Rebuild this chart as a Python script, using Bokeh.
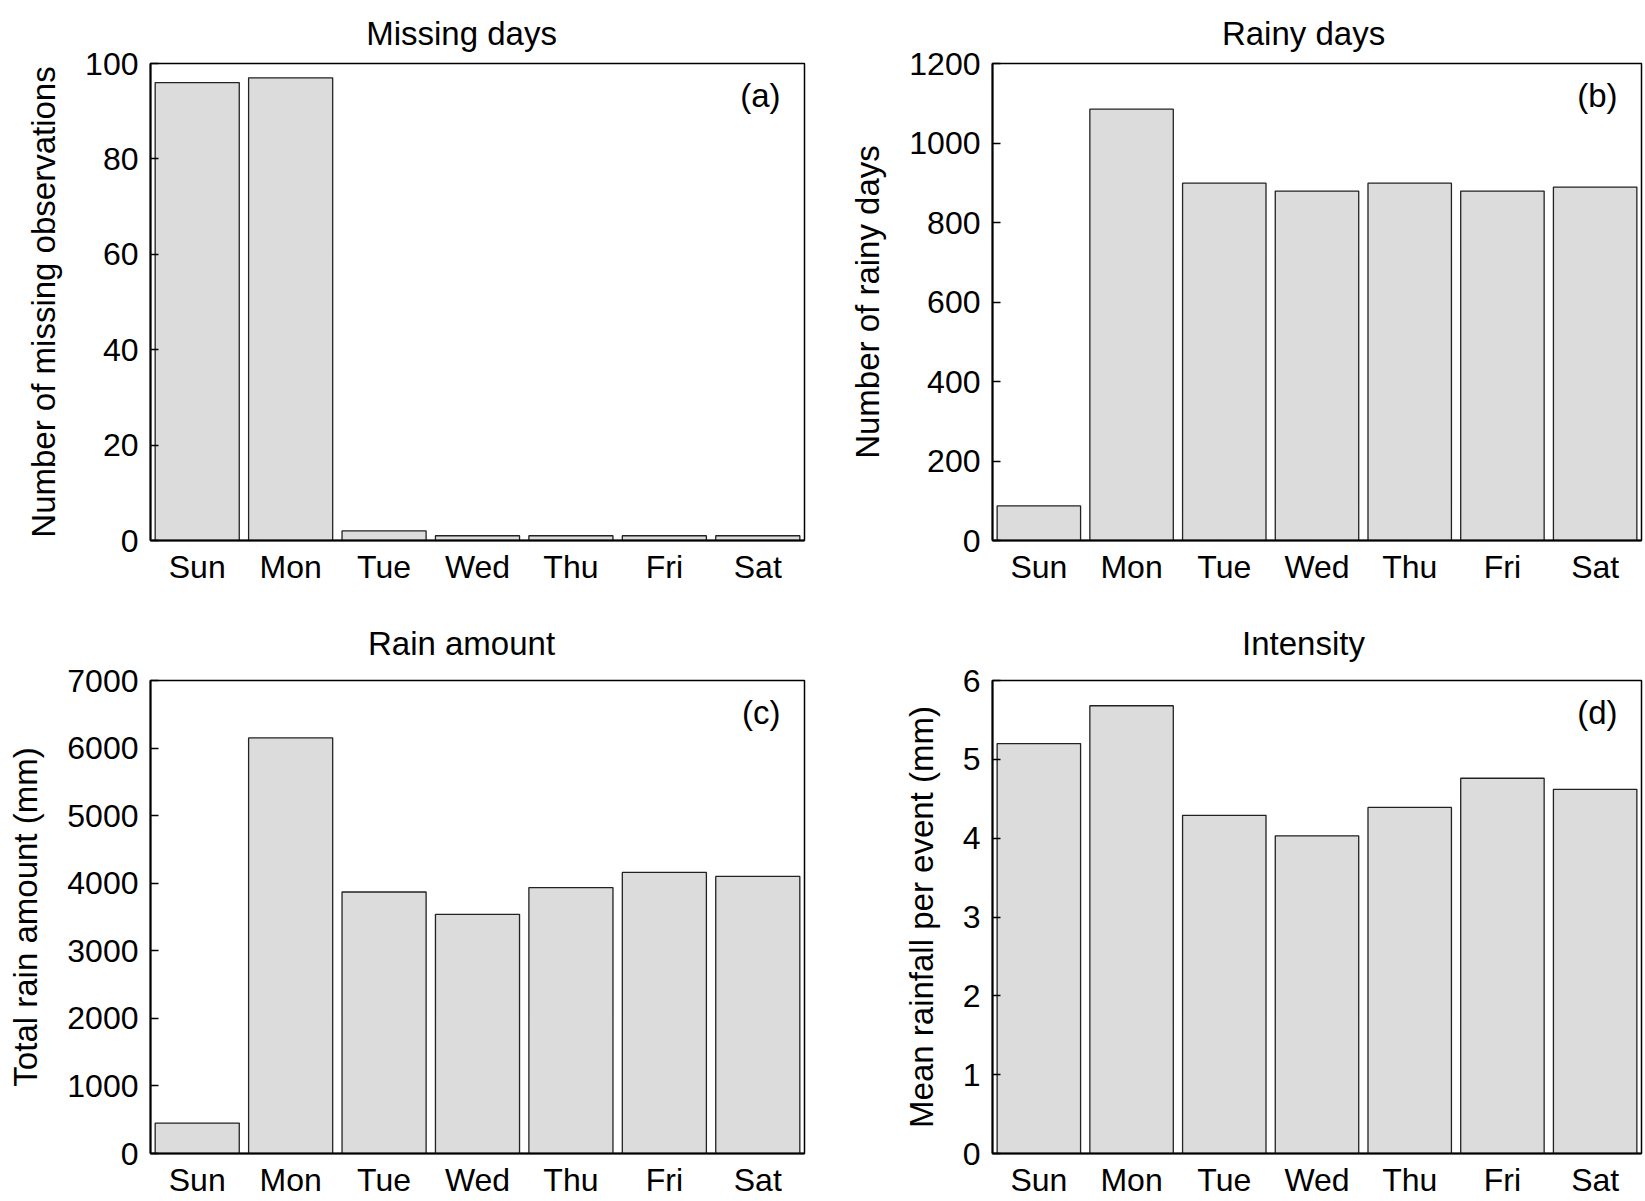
from bokeh.plotting import figure
from bokeh.layouts import row, column
from bokeh.models import FactorRange, Range1d, FixedTicker, Label, Title, ColumnDataSource
from bokeh.embed import file_html
from bokeh.resources import INLINE

days = ["Sun", "Mon", "Tue", "Wed", "Thu", "Fri", "Sat"]
missing_days = [96, 97, 2, 1, 1, 1, 1]
rainy_days = [87, 1085, 899, 879, 899, 879, 889]
rain_amount = [450, 6150, 3870, 3540, 3935, 4160, 4100]
intensity = [5.20, 5.68, 4.29, 4.03, 4.39, 4.76, 4.62]

titles = ["Missing days", "Rainy days", "Rain amount", "Intensity"]
ylabels = ["Number of missing observations", "Number of rainy days",
           "Total rain amount (mm)", "Mean rainfall per event (mm)"]
tags = ["(a)", "(b)", "(c)", "(d)"]
y_max = [100, 1200, 7000, 6]
y_ticks = [[0, 20, 40, 60, 80, 100],
           [0, 200, 400, 600, 800, 1000, 1200],
           [0, 1000, 2000, 3000, 4000, 5000, 6000, 7000],
           [0, 1, 2, 3, 4, 5, 6]]
series = [missing_days, rainy_days, rain_amount, intensity]

FONT = "Liberation Sans"
CW = {"M": 833, "i": 222, "s": 500, "n": 556, "g": 556, " ": 278, "d": 556, "a": 556,
      "y": 500, "R": 722, "m": 833, "o": 556, "u": 556, "t": 278, "I": 278, "e": 556}


def text_w(s, size):
    return sum(CW.get(c, 556) for c in s) / 1000.0 * size


def make(i, w, h, bl, br, bt, bb, tstand):
    src = ColumnDataSource(dict(day=days, val=series[i]))
    p = figure(x_range=FactorRange(*days, range_padding=0, factor_padding=0),
               y_range=Range1d(0, y_max[i]),
               width=w, height=h, output_backend="svg", toolbar_location=None,
               min_border_left=bl, min_border_right=br, min_border_top=bt,
               min_border_bottom=bb)
    p.vbar(x="day", top="val", width=0.9, source=src, fill_color="#dcdcdc",
           line_color="#222222", line_width=1.3)
    p.xgrid.visible = False
    p.ygrid.visible = False
    p.outline_line_color = "black"
    p.outline_line_width = 1.5
    p.outline_line_alpha = 1
    fs = "32px"
    for ax in (p.xaxis[0], p.yaxis[0]):
        ax.axis_line_color = "black"
        ax.axis_line_width = 2
        ax.major_label_text_font = FONT
        ax.major_label_text_font_size = fs
        ax.major_label_text_color = "black"
        ax.minor_tick_line_color = None
        ax.axis_label_text_font = FONT
        ax.axis_label_text_font_size = "33px"
        ax.axis_label_text_font_style = "normal"
        ax.axis_label_text_color = "black"
    p.xaxis.major_tick_line_color = None
    p.xaxis.major_label_standoff = 2
    p.yaxis.ticker = FixedTicker(ticks=y_ticks[i])
    p.yaxis.major_tick_in = 8
    p.yaxis.major_tick_out = 0
    p.yaxis.major_tick_line_width = 1.5
    p.yaxis.major_tick_line_color = "black"
    p.yaxis.major_label_standoff = 12
    p.yaxis.axis_label = ylabels[i]
    p.yaxis.axis_label_standoff = 20
    tw = text_w(titles[i], 33)
    p.title = Title(text=titles[i], align="left", offset=311 - tw / 2,
                    text_font=FONT, text_font_size="33px", text_font_style="normal",
                    text_color="black", standoff=tstand)
    p.add_layout(Label(x=7, y=y_max[i], x_offset=-24, y_offset=-32, text=tags[i],
                       text_align="right", text_baseline="middle", text_font=FONT,
                       text_font_size="33px", text_color="black"))
    return p


pa = make(0, 828, 596, 150, 24, 63, 56, 24)
pb = make(1, 815, 596, 164, 2, 63, 56, 24)
pc = make(2, 828, 604, 150, 24, 84, 46, 38)
pd = make(3, 815, 604, 164, 2, 84, 46, 38)

layout = column(row(pa, pb), row(pc, pd))
open("out.html", "w").write(file_html(layout, INLINE))
